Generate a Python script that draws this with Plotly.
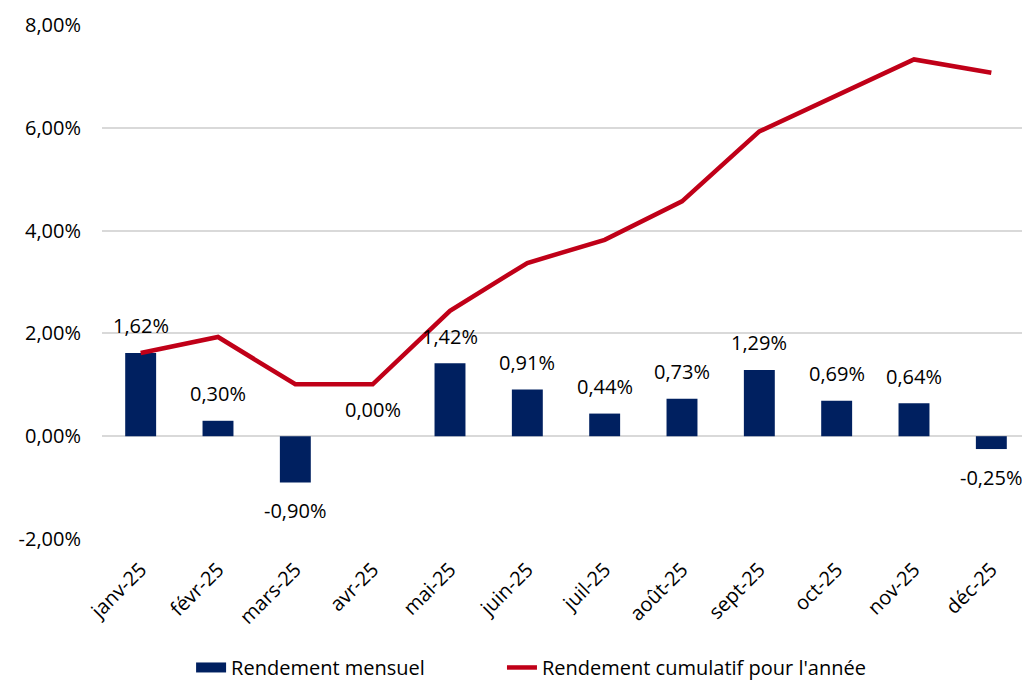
import plotly.graph_objects as go

months = ["janv-25", "févr-25", "mars-25", "avr-25", "mai-25", "juin-25",
          "juil-25", "août-25", "sept-25", "oct-25", "nov-25", "déc-25"]
monthly = [1.62, 0.30, -0.90, 0.00, 1.42, 0.91, 0.44, 0.73, 1.29, 0.69, 0.64, -0.25]
cumulative = [1.62, 1.93, 1.01, 1.01, 2.44, 3.37, 3.82, 4.57, 5.93, 6.63, 7.33, 7.07]
y_ticks = [-2, 0, 2, 4, 6, 8]
y_tick_labels = ["-2,00%", "0,00%", "2,00%", "4,00%", "6,00%", "8,00%"]

FONT = "Open Sans"
FS = 20
NAVY = "#002060"
RED = "#C00018"


def fmt(v):
    return f"{v:.2f}%".replace(".", ",")


fig = go.Figure()
fig.add_trace(go.Bar(
    x=months, y=monthly, name="Rendement mensuel",
    marker=dict(color=NAVY, line=dict(width=0)),
    width=0.4, showlegend=False,
))
# legend entry drawn as a wide rectangle like the original
fig.add_trace(go.Scatter(
    x=[None], y=[None], name="Rendement mensuel", mode="lines",
    line=dict(color=NAVY, width=13), legend="legend",
))
fig.add_trace(go.Scatter(
    x=months, y=cumulative, name="Rendement cumulatif pour l'année",
    mode="lines", line=dict(color=RED, width=4.5), legend="legend2",
))

for m, v in zip(months, monthly):
    fig.add_annotation(
        x=m, y=v, text=fmt(v), showarrow=False,
        yanchor="middle", xanchor="center",
        yshift=27 if v >= 0 else -28,
        font=dict(family=FONT, size=FS, color="#000000"),
    )

leg_common = dict(orientation="h", y=-0.212, yanchor="top",
                  font=dict(family=FONT, size=FS), itemsizing="trace",
                  bgcolor="rgba(0,0,0,0)")

fig.update_layout(
    width=1022, height=675,
    margin=dict(l=94, r=0, t=17, b=144, autoexpand=False),
    paper_bgcolor="white", plot_bgcolor="white",
    font=dict(family=FONT, size=FS, color="#000000"),
    showlegend=True,
    legend=dict(x=0.096, xanchor="left", **leg_common),
    legend2=dict(x=0.431, xanchor="left", **leg_common),
)
fig.update_xaxes(tickangle=-45, showgrid=False, showline=False, ticks="",
                 ticklabelstandoff=14, automargin=False,
                 tickfont=dict(family=FONT, size=FS))
fig.update_yaxes(range=[-2, 8], tickvals=y_ticks, ticktext=y_tick_labels,
                 showgrid=True, gridcolor="#D9D9D9", gridwidth=1.5,
                 zeroline=True, zerolinecolor="#D9D9D9", zerolinewidth=1.5,
                 showline=False, ticks="", ticklabelstandoff=20, automargin=False,
                 tickfont=dict(family=FONT, size=FS))

fig.write_html("out.html")
